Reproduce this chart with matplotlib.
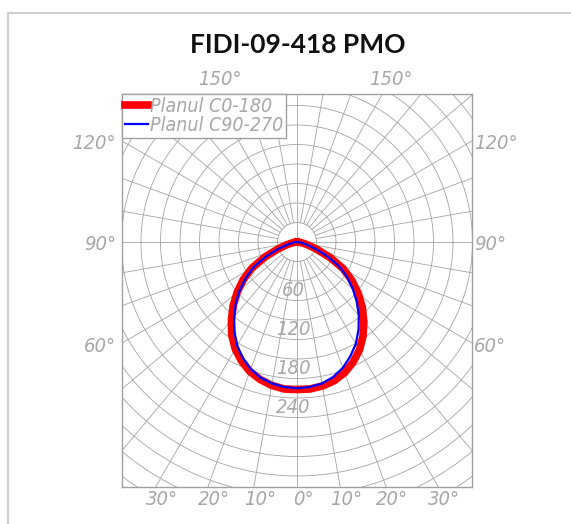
import numpy as np
import matplotlib.pyplot as plt
from matplotlib.lines import Line2D

title = "FIDI-09-418 PMO"
legend_labels = ["Planul C0-180", "Planul C90-270"]

# gamma angles from nadir (deg) and intensities (cd/klm) for each half-plane
gamma = [0, 5, 10, 15, 20, 25, 30, 35, 40, 45, 50, 55, 60, 65, 70, 75, 80, 85, 90]
c0 = [227, 227, 225, 221, 214, 204, 192, 177, 160, 142, 123, 103, 82, 56, 32, 17, 8, 3, 1]
c180 = [227, 227, 224, 219, 212, 202, 190, 175, 157, 139, 120, 101, 80, 54, 31, 16, 7, 3, 1]
c90 = [225, 224, 221, 215, 206, 194, 181, 165, 148, 130, 112, 94, 75, 51, 29, 15, 7, 3, 1]
c270 = [225, 224, 221, 216, 208, 197, 184, 168, 151, 133, 115, 96, 77, 52, 30, 15, 7, 3, 1]

ring_step = 30
ring_labels = [60, 120, 180, 240]
bottom_angles = [-30, -20, -10, 0, 10, 20, 30]
side_angles = [60, 90, 120]
top_angles = [150]

W, H = 571, 524
fig = plt.figure(figsize=(W / 100, H / 100), dpi=100)

# plot box in pixels
bx0, bx1, by0, by1 = 122, 472, 94, 487
cx, cy = 297, 242
u = ring_step / 19.5  # units per pixel

ax = fig.add_axes([bx0 / W, 1 - by1 / H, (bx1 - bx0) / W, (by1 - by0) / H])
ax.set_xlim(-(cx - bx0) * u, (bx1 - cx) * u)
ax.set_ylim(-(by1 - cy) * u, (cy - by0) * u)
ax.set_xticks([])
ax.set_yticks([])
for s in ax.spines.values():
    s.set_color("#a0a0a0")
    s.set_linewidth(1.0)

grid_c = "#a4a4a4"
t = np.linspace(0, 2 * np.pi, 721)
for r in range(ring_step, 20 * ring_step, ring_step):
    ax.plot(r * np.cos(t), r * np.sin(t), color=grid_c, lw=0.6, zorder=1)
for a in range(0, 360, 10):
    ar = np.radians(a)
    r0 = ring_step if a % 90 else 0
    ax.plot([r0 * np.sin(ar), 800 * np.sin(ar)], [-r0 * np.cos(ar), -800 * np.cos(ar)],
            color=grid_c, lw=0.6, zorder=1)

def curve(right, left):
    g = np.radians(np.concatenate([-np.array(gamma[::-1]), np.array(gamma[1:])]))
    i = np.concatenate([np.array(left[::-1]), np.array(right[1:])])
    return i * np.sin(g), -i * np.cos(g)

x, y = curve(c0, c180)
ax.plot(x, y, color="#ff0000", lw=5.5, solid_joinstyle="round", label=legend_labels[0], zorder=3)
x, y = curve(c90, c270)
ax.plot(x, y, color="#0000ff", lw=1.6, label=legend_labels[1], zorder=4)

fam = ["DejaVu Sans"]
lab = dict(color="#a8a8a8", style="oblique", stretch="condensed", family=fam, fontsize=14.5)

leg = ax.legend(loc="upper left", bbox_to_anchor=(0, 1), borderaxespad=0, fancybox=False,
                framealpha=1, edgecolor="#a0a0a0", handlelength=1.2, handletextpad=0.1,
                borderpad=0.15, labelspacing=0.0,
                prop=dict(family=fam, style="oblique", stretch="condensed", size=14))
leg.get_frame().set_linewidth(1.0)
for txt in leg.get_texts():
    txt.set_color("#a8a8a8")

for v in ring_labels:
    ax.text(-4 * u, -v, str(v), ha="center", va="top", zorder=2, **lab)

ybot = -(by1 - cy) * u
for a in bottom_angles:
    xa = ybot * -np.tan(np.radians(abs(a))) * np.sign(a)
    ax.text(xa + 6 * u, ybot - 3 * u, f"{abs(a)}°", ha="center", va="top", clip_on=False, **lab)

xr = (bx1 - cx) * u
for a in side_angles:
    ya = -xr / np.tan(np.radians(a))
    ax.text(xr + 2 * u, ya - 3 * u, f"{a}°", ha="left", va="center", clip_on=False, **lab)
    ax.text(-xr - 6 * u, ya - 3 * u, f"{a}°", ha="right", va="center", clip_on=False, **lab)

ytop = (cy - by0) * u
for a in top_angles:
    xa = ytop * np.tan(np.radians(180 - a))
    for sgn in (-1, 1):
        ax.text(sgn * xa + 8 * u, ytop + 5 * u, f"{a}°", ha="center", va="bottom", clip_on=False, **lab)

fig.text(0.521, 1 - 45 / H, title, ha="center", va="center", fontsize=19,
         fontweight="bold", family=["Lato", "DejaVu Sans"], color="#111111")

fig.add_artist(Line2D([8 / W, 1], [1 - 13 / H, 1 - 13 / H], color="#d0d0d0", lw=1.5))
fig.add_artist(Line2D([8 / W, 8 / W], [0, 1 - 13 / H], color="#d0d0d0", lw=1.5))

plt.savefig("out.png", dpi=100)
